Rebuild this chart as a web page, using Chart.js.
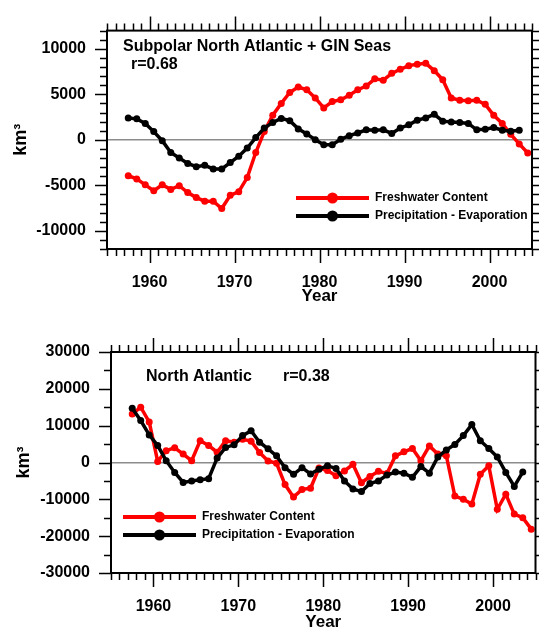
<!DOCTYPE html>
<html>
<head>
<meta charset="utf-8">
<script src="https://cdn.jsdelivr.net/npm/chart.js@4.4.1/dist/chart.umd.min.js"></script>
<style>
  html, body { margin: 0; padding: 0; background: #fff; overflow: hidden; }
  canvas { position: absolute; left: 0; }
  #topChart { top: 0; }
  #bottomChart { top: 318px; }
</style>
</head>
<body>
<canvas id="topChart" width="539" height="318"></canvas>
<canvas id="bottomChart" width="539" height="320"></canvas>
<script>
// DATA (values plotted at mid-year)
const years = [1957, 1958, 1959, 1960, 1961, 1962, 1963, 1964, 1965, 1966,
               1967, 1968, 1969, 1970, 1971, 1972, 1973, 1974, 1975, 1976,
               1977, 1978, 1979, 1980, 1981, 1982, 1983, 1984, 1985, 1986,
               1987, 1988, 1989, 1990, 1991, 1992, 1993, 1994, 1995, 1996,
               1997, 1998, 1999, 2000, 2001, 2002, 2003, 2004];

// Subpolar North Atlantic + GIN Seas
const subpolarFwc = [-3950, -4300, -4950, -5600, -4950, -5450, -5050, -5800, -6350, -6750,
                     -6750, -7550, -6100, -5700, -4150, -1400, 900, 2700, 4000, 5200,
                     5800, 5500, 4600, 3500, 4200, 4400, 4900, 5500, 5900, 6700,
                     6550, 7300, 7750, 8150, 8300, 8400, 7600, 6600, 4600, 4350,
                     4300, 4350, 3900, 2700, 1800, 600, -450, -1450];
const subpolarPe = [2400, 2300, 1800, 900, -100, -1400, -2000, -2600, -2950, -2800,
                    -3200, -3200, -2500, -1800, -900, 250, 1300, 1900, 2350, 2100,
                    1200, 650, 0, -550, -550, 50, 450, 750, 1100, 1050,
                    1100, 700, 1300, 1650, 2150, 2400, 2800, 2050, 1950, 1900,
                    1800, 1100, 1150, 1350, 1050, 950, 1050];

// North Atlantic
const atlanticFwc = [13200, 15000, 11000, 300, 3200, 4000, 2300, 500, 5900, 4600,
                     2800, 5900, 5500, 6300, 5800, 2700, 400, -200, -6000, -9400,
                     -7300, -7000, -1500, -2200, -3600, -2300, -500, -5500, -3800, -2400,
                     -3000, 1800, 2900, 3800, 500, 4500, 2300, 1800, -9100, -10000,
                     -11300, -3200, -900, -12700, -8600, -14000, -15000, -18100];
const atlanticPe = [14700, 11400, 7500, 4600, 500, -2700, -5400, -5000, -4700, -4400,
                    1200, 4100, 4800, 7300, 8600, 5500, 3700, 1800, -1400, -3200,
                    -1400, -3100, -1800, -900, -1600, -5000, -7200, -7900, -5700, -5000,
                    -3400, -2600, -2900, -4000, -1100, -2900, 1500, 3400, 4900, 7300,
                    10300, 5900, 3800, 1500, -2700, -6500, -2600];

const yearTicks = [1960, 1970, 1980, 1990, 2000];
const subpolarTicks = [-10000, -5000, 0, 5000, 10000];
const atlanticTicks = [-30000, -20000, -10000, 0, 10000, 20000, 30000];

const FONT = '"Liberation Sans", Arial, Helvetica, sans-serif';

function toPoints(values) {
    return values.map((v, i) => ({ x: years[i] + 0.5, y: v }));
}

// frame + minor/major ticks on all four sides
const frameTicks = {
    id: 'frameTicks',
    afterDraw(chart, args, o) {
        const { ctx, chartArea: a, scales: { x, y } } = chart;
        ctx.save();
        ctx.strokeStyle = '#000';
        ctx.lineWidth = 2;
        ctx.strokeRect(a.left, a.top, a.right - a.left, a.bottom - a.top);
        ctx.lineWidth = 1.5;
        ctx.beginPath();
        for (let v = x.min; v <= x.max; v++) {
            const px = Math.round(x.getPixelForValue(v)) + 0.5;
            const len = v % 10 === 0 ? o.xMajor : o.xMinor;
            ctx.moveTo(px, a.bottom); ctx.lineTo(px, a.bottom + len);
            ctx.moveTo(px, a.top); ctx.lineTo(px, a.top - len);
        }
        for (let v = y.min; v <= y.max; v += o.yMinorStep) {
            const py = Math.round(y.getPixelForValue(v)) + 0.5;
            const len = v % o.yMajorStep === 0 ? o.yMajor : o.yMinor;
            ctx.moveTo(a.left, py); ctx.lineTo(a.left - len, py);
            ctx.moveTo(a.right, py); ctx.lineTo(a.right + len, py);
        }
        ctx.stroke();
        ctx.restore();
    }
};

// panel captions + legend inside the plot
const panelText = {
    id: 'panelText',
    afterDatasetsDraw(chart, args, o) {
        const ctx = chart.ctx;
        ctx.save();
        ctx.textBaseline = 'middle';
        ctx.textAlign = 'left';
        o.labels.forEach(l => {
            ctx.fillStyle = '#000';
            ctx.font = 'bold 16px ' + FONT;
            ctx.fillText(l.text, l.x, l.y);
        });
        o.legend.forEach(item => {
            const ds = chart.data.datasets.find(d => d.label === item.label);
            ctx.strokeStyle = ds.borderColor;
            ctx.lineWidth = 4;
            ctx.beginPath();
            ctx.moveTo(item.x1, item.y);
            ctx.lineTo(item.x2, item.y);
            ctx.stroke();
            ctx.fillStyle = ds.borderColor;
            ctx.beginPath();
            ctx.arc((item.x1 + item.x2) / 2, item.y, 5.5, 0, Math.PI * 2);
            ctx.fill();
            ctx.fillStyle = '#000';
            ctx.font = 'bold 12px ' + FONT;
            ctx.fillText(ds.label, item.x2 + 6, item.y);
        });
        ctx.restore();
    }
};

function makeChart(id, fwc, pe, yTicks, opts) {
    const ctx = document.getElementById(id).getContext('2d');
    return new Chart(ctx, {
        type: 'line',
        data: {
            datasets: [
                {
                    label: 'Precipitation - Evaporation',
                    data: toPoints(pe),
                    borderColor: '#000000',
                    backgroundColor: '#000000',
                    order: 1
                },
                {
                    label: 'Freshwater Content',
                    data: toPoints(fwc),
                    borderColor: '#ff0000',
                    backgroundColor: '#ff0000',
                    order: 2
                }
            ]
        },
        options: {
            responsive: false,
            animation: false,
            layout: { padding: opts.padding },
            elements: {
                line: { borderWidth: 3.5, tension: 0 },
                point: { radius: 3.5, borderWidth: 0, hoverRadius: 3.5 }
            },
            plugins: {
                legend: { display: false },
                tooltip: { enabled: false },
                frameTicks: opts.ticks,
                panelText: { labels: opts.labels, legend: opts.legend }
            },
            scales: {
                x: {
                    type: 'linear',
                    min: 1955,
                    max: 2005,
                    afterBuildTicks: s => { s.ticks = yearTicks.map(v => ({ value: v })); },
                    afterFit: s => { s.height = opts.xHeight; },
                    grid: { display: false, drawTicks: false },
                    border: { display: true, color: '#000', width: 2 },
                    ticks: {
                        padding: 24,
                        color: '#000',
                        maxRotation: 0,
                        autoSkip: false,
                        font: { family: FONT, size: 16, weight: 'bold' },
                        callback: v => String(v)
                    },
                    title: {
                        display: true,
                        text: 'Year',
                        color: '#000',
                        font: { family: FONT, size: 17, weight: 'bold' },
                        padding: { top: 0, bottom: opts.yearPad }
                    }
                },
                y: {
                    type: 'linear',
                    min: opts.yMin,
                    max: opts.yMax,
                    afterBuildTicks: s => { s.ticks = yTicks.map(v => ({ value: v })); },
                    afterFit: s => { s.width = opts.yWidth; },
                    grid: {
                        drawTicks: false,
                        lineWidth: 1.5,
                        color: c => (c.tick && c.tick.value === 0) ? '#8c8c8c' : 'rgba(0,0,0,0)'
                    },
                    border: { display: true, color: '#000', width: 2 },
                    ticks: {
                        padding: 21,
                        color: '#000',
                        autoSkip: false,
                        font: { family: FONT, size: 16, weight: 'bold' },
                        callback: v => String(v)
                    },
                    title: {
                        display: true,
                        text: 'km³',
                        color: '#000',
                        font: { family: FONT, size: 18, weight: 'bold' },
                        padding: { top: opts.kmPad, bottom: 0 }
                    }
                }
            }
        },
        plugins: [frameTicks, panelText]
    });
}

document.addEventListener('DOMContentLoaded', () => {
    makeChart('topChart', subpolarFwc, subpolarPe, subpolarTicks, {
        padding: { left: 0, right: 7, top: 27, bottom: 0 },
        yWidth: 107,
        xHeight: 69,
        yearPad: 11,
        kmPad: 10,
        yMin: -12000,
        yMax: 12000,
        ticks: { xMajor: 14, xMinor: 7, yMajor: 12, yMinor: 7, yMajorStep: 5000, yMinorStep: 1000 },
        labels: [
            { text: 'Subpolar North Atlantic + GIN Seas', x: 123, y: 47 },
            { text: 'r=0.68', x: 131, y: 65 }
        ],
        legend: [
            { label: 'Freshwater Content', x1: 296, x2: 369, y: 198 },
            { label: 'Precipitation - Evaporation', x1: 296, x2: 369, y: 216 }
        ]
    });

    makeChart('bottomChart', atlanticFwc, atlanticPe, atlanticTicks, {
        padding: { left: 0, right: 3, top: 34, bottom: 0 },
        yWidth: 111,
        xHeight: 65,
        yearPad: 5,
        kmPad: 13,
        yMin: -30000,
        yMax: 30000,
        ticks: { xMajor: 14, xMinor: 7, yMajor: 12, yMinor: 7, yMajorStep: 10000, yMinorStep: 5000 },
        labels: [
            { text: 'North Atlantic', x: 146, y: 59 },
            { text: 'r=0.38', x: 283, y: 59 }
        ],
        legend: [
            { label: 'Freshwater Content', x1: 123, x2: 196, y: 199 },
            { label: 'Precipitation - Evaporation', x1: 123, x2: 196, y: 217 }
        ]
    });
});
</script>
</body>
</html>
